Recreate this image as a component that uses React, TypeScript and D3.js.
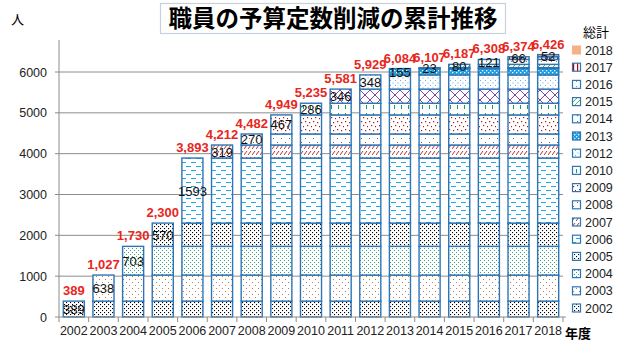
import React from 'react';
import * as d3 from 'd3';

// years on the x axis and the reduction added in each year
const years = ['2002', '2003', '2004', '2005', '2006', '2007', '2008', '2009', '2010', '2011', '2012', '2013', '2014', '2015', '2016', '2017', '2018'];
const increments = [389, 638, 703, 570, 1593, 319, 270, 467, 286, 346, 348, 155, 23, 80, 121, 66, 52];
// legend as shown in the original (2011 is not listed)
const legendYears = ['2018', '2017', '2016', '2015', '2014', '2013', '2012', '2010', '2009', '2008', '2007', '2006', '2005', '2004', '2003', '2002'];
const yTicks = [0, 1000, 2000, 3000, 4000, 5000, 6000];

const W = 623;
const H = 352;
const margin = { top: 40, right: 60, bottom: 35, left: 59 };
const EDGE = '#2e75b6';
const FONT = '"Liberation Sans", Arial, sans-serif';

const Patterns = () => (
  <defs>
    <pattern id="p2002" width="4" height="4" patternUnits="userSpaceOnUse">
      <rect width="4" height="4" fill="#fff" />
      <rect x="0" y="0" width="1.1" height="1.1" fill="#000" />
      <rect x="2" y="2" width="1.1" height="1.1" fill="#000" />
    </pattern>
    <pattern id="p2003" width="6" height="6" patternUnits="userSpaceOnUse">
      <rect width="6" height="6" fill="#fff" />
      <rect x="0" y="0" width="1" height="1" fill="#b08060" />
      <rect x="3" y="3" width="1" height="1" fill="#b08060" />
    </pattern>
    <pattern id="p2004" width="4" height="4" patternUnits="userSpaceOnUse">
      <rect width="4" height="4" fill="#fff" />
      <rect x="0" y="0" width="1" height="1" fill="#3aa07a" />
      <rect x="2" y="2" width="1" height="1" fill="#3aa07a" />
    </pattern>
    <pattern id="p2006" width="10" height="8" patternUnits="userSpaceOnUse">
      <rect width="10" height="8" fill="#fff" />
      <rect x="1" y="2" width="5" height="1" fill="#20a8e8" />
      <rect x="6" y="6" width="5" height="1" fill="#20a8e8" />
      <rect x="-4" y="6" width="5" height="1" fill="#20a8e8" />
    </pattern>
    <pattern id="p2007" width="4" height="6" patternUnits="userSpaceOnUse">
      <rect width="4" height="6" fill="#fff" />
      <line x1="0" y1="5" x2="3" y2="1" stroke="#b01818" strokeWidth="0.9" />
    </pattern>
    <pattern id="p2008" width="8" height="8" patternUnits="userSpaceOnUse">
      <rect width="8" height="8" fill="#fff" />
      <rect x="1" y="2" width="1" height="1" fill="#666" />
      <rect x="5" y="6" width="1" height="1" fill="#666" />
    </pattern>
    <pattern id="p2009" width="8" height="8" patternUnits="userSpaceOnUse">
      <rect width="8" height="8" fill="#fff" />
      <rect x="1" y="1" width="1.2" height="1.2" fill="#b01818" />
      <rect x="5" y="2" width="1.2" height="1.2" fill="#b01818" />
      <rect x="3" y="5" width="1.2" height="1.2" fill="#b01818" />
      <rect x="7" y="6" width="1.2" height="1.2" fill="#b01818" />
    </pattern>
    <pattern id="p2010" width="7" height="8" patternUnits="userSpaceOnUse">
      <rect width="7" height="8" fill="#fff" />
      <rect x="2" y="1" width="1" height="4" fill="#16a050" />
    </pattern>
    <pattern id="p2011" width="10" height="10" patternUnits="userSpaceOnUse">
      <rect width="10" height="10" fill="#fff" />
      <path d="M0,0 L10,10 M10,0 L0,10" stroke="#7030a0" strokeWidth="0.9" />
    </pattern>
    <pattern id="p2012" width="5" height="5" patternUnits="userSpaceOnUse">
      <rect width="5" height="5" fill="#fff" />
      <rect x="0" y="0" width="1" height="1" fill="#6aaee0" />
      <rect x="2.5" y="2.5" width="1" height="1" fill="#6aaee0" />
    </pattern>
    <pattern id="p2013" width="4" height="4" patternUnits="userSpaceOnUse">
      <rect width="4" height="4" fill="#1aa0e0" />
      <rect x="0" y="0" width="1.3" height="1.3" fill="#fff" />
      <rect x="2" y="2" width="1.3" height="1.3" fill="#fff" />
    </pattern>
    <pattern id="p2014" width="6" height="6" patternUnits="userSpaceOnUse">
      <rect width="6" height="6" fill="#fff" />
      <rect x="1" y="1" width="1.2" height="1.2" fill="#2e75b6" />
    </pattern>
    <pattern id="p2015" width="5" height="5" patternUnits="userSpaceOnUse">
      <rect width="5" height="5" fill="#fff" />
      <line x1="0" y1="5" x2="5" y2="0" stroke="#6aa84f" strokeWidth="1" />
    </pattern>
    <pattern id="p2016" width="5" height="5" patternUnits="userSpaceOnUse">
      <rect width="5" height="5" fill="#fff" />
      <rect x="1" y="1" width="1" height="1" fill="#888" />
    </pattern>
    <pattern id="p2017" width="4" height="4" patternUnits="userSpaceOnUse">
      <rect width="4" height="4" fill="#fff" />
      <rect x="1" y="0" width="1.2" height="4" fill="#c00000" />
    </pattern>
  </defs>
);

const fillFor = (yr: string) => {
  if (yr === '2018') return '#f4b183';
  if (yr === '2005') return 'url(#p2002)';
  return `url(#p${yr})`;
};

export default function App() {
  const totals = Array.from(d3.cumsum(increments));

  // each bar i holds the segments of all years up to i
  const rows = years.map((yr, i) => {
    const row: Record<string, any> = { year: yr };
    years.forEach((k, j) => (row[k] = j <= i ? increments[j] : 0));
    return row;
  });
  const series = d3.stack().keys(years)(rows as any);

  const x = d3
    .scaleBand()
    .domain(years)
    .range([margin.left, W - margin.right])
    .paddingInner(0.29)
    .paddingOuter(0.145);

  const y = d3.scaleLinear().domain([0, 6000]).range([317, 72]);
  const plotRight = W - margin.right;

  return (
    <div style={{ position: 'absolute', left: 0, top: 0 }}>
      <svg width={W} height={H} style={{ display: 'block', background: '#fff' }} fontFamily={FONT}>
        <Patterns />

        {/* title */}
        <rect x={160.5} y={3.5} width={345} height={30} fill="#fff" stroke="#c8d0dc" strokeWidth={1.2} />
        <text x={333} y={27} textAnchor="middle" fontSize={23.5} fontWeight="bold" fontFamily='"Noto Sans CJK JP", sans-serif' fill="#000">
          職員の予算定数削減の累計推移
        </text>

        {/* y axis unit */}
        <text x={11} y={24} fontSize={13} fontFamily='"Noto Sans CJK JP", sans-serif'>人</text>

        {/* gridlines and y ticks */}
        {yTicks.map((t) => (
          <g key={t}>
            {t > 0 && <line x1={margin.left} x2={plotRight} y1={y(t)} y2={y(t)} stroke="#8c8c8c" strokeWidth={1} />}
            <line x1={margin.left - 4} x2={margin.left} y1={y(t)} y2={y(t)} stroke="#8c8c8c" />
            <text x={47} y={y(t) + 4.5} textAnchor="end" fontSize={12.5} fill="#222">{t}</text>
          </g>
        ))}
        <line x1={margin.left} x2={margin.left} y1={40} y2={y(0)} stroke="#8c8c8c" />

        {/* bars */}
        {series.map((s) => (
          <g key={s.key} fill={fillFor(s.key)}>
            {s.map((d, i) =>
              d[1] - d[0] > 0 ? (
                <rect
                  key={i}
                  x={x(years[i])}
                  y={y(d[1])}
                  width={x.bandwidth()}
                  height={y(d[0]) - y(d[1])}
                  stroke={EDGE}
                  strokeWidth={1.4}
                />
              ) : null
            )}
          </g>
        ))}

        {/* x axis */}
        <line x1={margin.left} x2={plotRight + 3} y1={y(0)} y2={y(0)} stroke="#8c8c8c" />
        {years.map((yr, i) => {
          const left = x(yr)! - (x.step() * x.paddingInner()) / 2;
          return (
            <g key={yr}>
              <line x1={left} x2={left} y1={y(0)} y2={y(0) + 5} stroke="#8c8c8c" />
              {i === years.length - 1 && (
                <line x1={left + x.step()} x2={left + x.step()} y1={y(0)} y2={y(0) + 5} stroke="#8c8c8c" />
              )}
              <text x={x(yr)! + x.bandwidth() / 2} y={335} textAnchor="middle" fontSize={12.5} fill="#222">{yr}</text>
            </g>
          );
        })}
        <text x={565} y={338} fontSize={13} fontWeight="bold" fontFamily='"Noto Sans CJK JP", sans-serif'>年度</text>

        {/* segment values */}
        {years.map((yr, i) => (
          <text
            key={yr}
            x={x(yr)! + x.bandwidth() / 2}
            y={(y(totals[i]) + y(totals[i] - increments[i])) / 2 + 5}
            textAnchor="middle"
            fontSize={13}
            fill="#111"
          >
            {increments[i]}
          </text>
        ))}

        {/* totals */}
        {years.map((yr, i) => (
          <text
            key={yr}
            x={x(yr)! + x.bandwidth() / 2}
            y={y(totals[i]) - 6}
            textAnchor="middle"
            fontSize={13}
            fontWeight="bold"
            fill="#e8261c"
          >
            {d3.format(',')(totals[i])}
          </text>
        ))}

        {/* legend */}
        <text x={583} y={37} fontSize={13} fontFamily='"Noto Sans CJK JP", sans-serif'>総計</text>
        {legendYears.map((yr, i) => {
          const ly = 50 + i * 17.2;
          return (
            <g key={yr}>
              {yr === '2018' ? (
                <rect x={572} y={ly - 4.5} width={9} height={9} fill="#f4b183" />
              ) : (
                <rect x={572.5} y={ly - 4} width={8} height={8} fill={fillFor(yr)} stroke={EDGE} strokeWidth={1.2} />
              )}
              <text x={585} y={ly + 4.5} fontSize={12.5} fill="#222">{yr}</text>
            </g>
          );
        })}
      </svg>
    </div>
  );
}
